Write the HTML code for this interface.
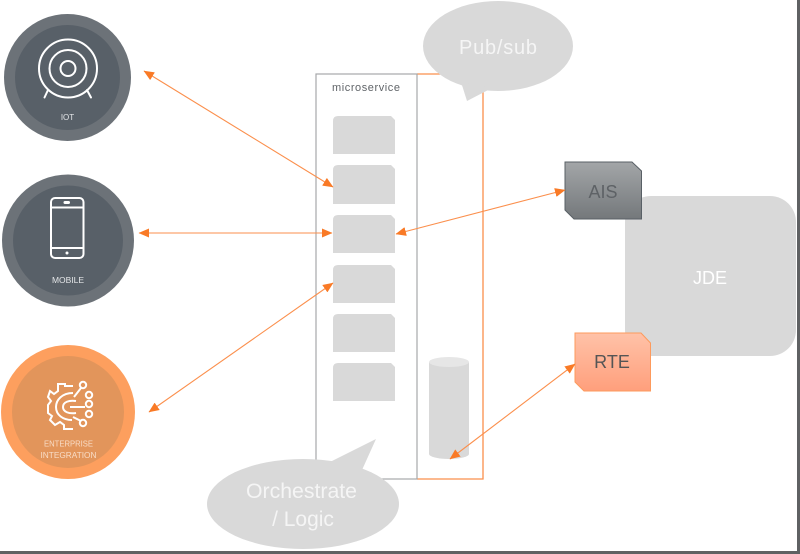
<!DOCTYPE html>
<html><head><meta charset="utf-8"><style>html,body{margin:0;padding:0;background:#fff}svg{display:block;font-family:"Liberation Sans",sans-serif}</style></head>
<body>
<svg width="800" height="554" viewBox="0 0 800 554" xmlns="http://www.w3.org/2000/svg">
<defs>
<linearGradient id="a" x1="0" y1="0" x2="0" y2="1"><stop offset="0" stop-color="#a3a6a8"/><stop offset="1" stop-color="#74787b"/></linearGradient>
<linearGradient id="r" x1="0" y1="0" x2="0" y2="1"><stop offset="0" stop-color="#ffc2a8"/><stop offset="1" stop-color="#ff9f7c"/></linearGradient>
<marker id="h" markerWidth="11" markerHeight="10" refX="10" refY="5" orient="auto-start-reverse" markerUnits="userSpaceOnUse"><path d="M0 0.500L10.500 5L0 9.500z" fill="#f97a26"/></marker>
</defs>
<rect width="800" height="554" fill="#fff"/>
<!-- circles -->
<circle cx="67.500" cy="77.500" r="63.500" fill="#6c7278"/><circle cx="67.500" cy="77.500" r="52.500" fill="#586068"/>
<circle cx="68" cy="240.500" r="66" fill="#6c7278"/><circle cx="68" cy="240.500" r="55" fill="#586068"/>
<circle cx="68" cy="412" r="67" fill="#fd9f5e"/><circle cx="68" cy="412" r="56" fill="#e2955b"/>
<!-- IOT icon -->
<g fill="none" stroke="#fff" stroke-width="2">
<circle cx="68" cy="68.500" r="29"/><circle cx="68" cy="68.500" r="18.500"/><circle cx="68" cy="68.500" r="7.500"/>
<path d="M48 90L44.500 97.500M87 90L91 97.500" stroke-linecap="round"/>
</g>
<text x="67.500" y="120" font-size="8" fill="#e4e6e8" text-anchor="middle">IOT</text>
<!-- phone icon -->
<g fill="none" stroke="#fff" stroke-width="2">
<rect x="51" y="198" width="32.500" height="60" rx="4"/>
<path d="M51 207.500H83.500M51 248H83.500"/>
</g>
<rect x="63.500" y="201" width="6.500" height="3" rx="1.500" fill="#fff"/><circle cx="67" cy="253" r="1.500" fill="#fff"/>
<text x="68" y="283" font-size="8" fill="#e4e6e8" text-anchor="middle" textLength="32" lengthAdjust="spacingAndGlyphs">MOBILE</text>
<!-- gear icon -->
<g fill="none" stroke="#fff" stroke-width="2">
<path d="M73 386H65V384H58V391L54 394L50 391L48 397L51 401L48 405V413L52 416L50 420L55 425L60 422L64 425V429H73"/>
<path d="M73 393C62 393 56 400 56 407C56 415 63 420 72 420"/>
<path d="M76 401C69 400 63 402 63 407C63 412 69 414 76 413"/>
<path d="M70 407H85M74 397L81 388M73 417L81 421"/>
<circle cx="83" cy="385" r="3.200"/><circle cx="89" cy="395" r="3.200"/><circle cx="89" cy="404" r="3.200"/><circle cx="89" cy="414" r="3.200"/><circle cx="83" cy="423" r="3.200"/>
</g>
<text x="68.500" y="446.500" font-size="8.500" fill="#f8dcc6" text-anchor="middle" textLength="49" lengthAdjust="spacingAndGlyphs">ENTERPRISE</text>
<text x="68.500" y="458" font-size="8.500" fill="#f8dcc6" text-anchor="middle" textLength="56" lengthAdjust="spacingAndGlyphs">INTEGRATION</text>
<!-- boxes -->
<path d="M417 74H483V479H417" fill="none" stroke="#fb8f4c" stroke-width="1.300"/>
<rect x="316" y="74" width="101" height="405" fill="none" stroke="#a6a8aa" stroke-width="1.200"/>
<text x="366" y="91" font-size="11" fill="#606468" text-anchor="middle" textLength="68" lengthAdjust="spacing">microservice</text>
<!-- cards -->
<g fill="#d9d9d9">
<path d="M338 116H391L395 120V154H333V121Q333 116 338 116z"/>
<path d="M338 165H391L395 169V204H333V170Q333 165 338 165z"/>
<path d="M338 215H391L395 219V253H333V220Q333 215 338 215z"/>
<path d="M338 265H391L395 269V303H333V270Q333 265 338 265z"/>
<path d="M338 314H391L395 318V352H333V319Q333 314 338 314z"/>
<path d="M338 363H391L395 367V401H333V368Q333 363 338 363z"/>
</g>
<!-- cylinder -->
<path d="M429 362V454A20 5 0 0 0 469 454V362z" fill="#d9d9d9"/>
<ellipse cx="449" cy="362" rx="20" ry="5" fill="#e6e6e6"/>
<!-- JDE -->
<rect x="625" y="196" width="171" height="160" rx="26" fill="#d9d9d9"/>
<text x="710" y="284" font-size="18" fill="#fff" text-anchor="middle">JDE</text>
<!-- AIS -->
<path d="M565 162H632L641.500 171V219H574L565 210z" fill="url(#a)" stroke="#596066" stroke-width="1"/>
<text x="603" y="198" font-size="18" fill="#5e6266" text-anchor="middle">AIS</text>
<!-- RTE -->
<path d="M575 333H641L650.500 343V391H584L575 382z" fill="url(#r)" stroke="#fd9a5c" stroke-width="1"/>
<text x="612" y="368" font-size="18" fill="#555" text-anchor="middle">RTE</text>
<!-- callouts -->
<ellipse cx="498" cy="46" rx="75" ry="45" fill="#d9d9d9"/>
<path d="M461 82L467 101L492 88z" fill="#d9d9d9"/>
<text x="498" y="54" font-size="20" fill="#f5f5f5" text-anchor="middle" textLength="78" lengthAdjust="spacing">Pub/sub</text>
<ellipse cx="303" cy="504" rx="96" ry="45" fill="#d9d9d9"/>
<path d="M328 463L376 439L362 470z" fill="#d9d9d9"/>
<text x="301.500" y="498" font-size="21" fill="#f5f5f5" text-anchor="middle" textLength="111" lengthAdjust="spacingAndGlyphs">Orchestrate</text>
<text x="303" y="526" font-size="21" fill="#f5f5f5" text-anchor="middle">/ Logic</text>
<!-- arrows -->
<g stroke="#fb8f4c" stroke-width="1.100" fill="none">
<path d="M144 71L333 187" marker-start="url(#h)" marker-end="url(#h)"/>
<path d="M139 233H332" marker-start="url(#h)" marker-end="url(#h)"/>
<path d="M149 412L333 283" marker-start="url(#h)" marker-end="url(#h)"/>
<path d="M396 234L565 190" marker-start="url(#h)" marker-end="url(#h)"/>
<path d="M450 459L575 364" marker-start="url(#h)" marker-end="url(#h)"/>
</g>
<!-- frame -->
<rect x="797" y="0" width="3" height="554" fill="#5f6163"/>
<rect x="0" y="551" width="800" height="3" fill="#5f6163"/>
</svg>
</body></html>
